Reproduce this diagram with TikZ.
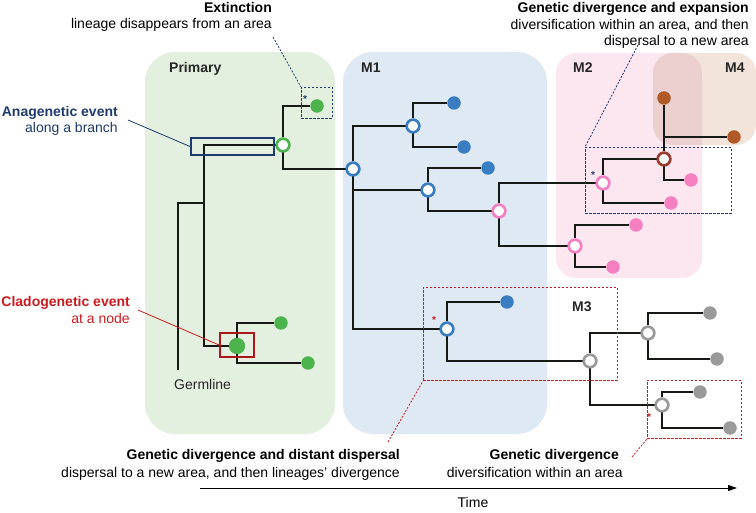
\documentclass[tikz,border=0pt]{standalone}
\usepackage{fontspec}
\setmainfont{Liberation Sans}
\usetikzlibrary{arrows.meta}
\definecolor{bgprim}{HTML}{E3F0DF}
\definecolor{bgmone}{HTML}{DFE9F4}
\definecolor{bgmtwo}{HTML}{FCE6F0}
\definecolor{bgmfour}{HTML}{F2E4DB}
\definecolor{bgover}{HTML}{EBD0CF}
\definecolor{cgreen}{HTML}{4DB34D}
\definecolor{cblue}{HTML}{3B7DC2}
\definecolor{cpink}{HTML}{F47FC1}
\definecolor{cbrown}{HTML}{B05A28}
\definecolor{cdred}{HTML}{9A3B32}
\definecolor{cgrey}{HTML}{9A9A9A}
\definecolor{cnavy}{HTML}{1F3A6E}
\definecolor{cred}{HTML}{CC1A1F}
\definecolor{treeblack}{HTML}{151A15}
\begin{document}
\begin{tikzpicture}[x=1pt,y=-1pt,
  font=\fontsize{14}{17}\selectfont,
  tree/.style={line width=2.6pt, draw=treeblack},
  opennode/.style={circle, draw=#1, fill=white, line width=2.5pt, minimum size=12.5pt, inner sep=0pt},
  dot/.style={circle, fill=#1, minimum size=13.5pt, inner sep=0pt},
  lblr/.style={inner sep=0pt, anchor=base east},
  lbll/.style={inner sep=0pt, anchor=base west},
  area/.style={inner sep=0pt, anchor=base west, font=\fontsize{14}{17}\selectfont\bfseries, text=black!85},
  star/.style={inner sep=0pt, font=\fontsize{10}{10}\selectfont\bfseries},
  evbox/.style={draw=#1, line width=0.9pt, dashed, dash pattern=on 2.5pt off 1.5pt, inner sep=0pt, anchor=north west},
  conn/.style={draw=#1, line width=0.8pt}
]
\useasboundingbox (0,0) rectangle (756,513);

% backgrounds
\fill[bgprim, rounded corners=30pt] (145,52) rectangle (335,434);
\fill[bgmone, rounded corners=30pt] (343,52) rectangle (547,434);
\fill[bgmtwo, rounded corners=20pt] (556,53) rectangle (702,278);
\fill[bgmfour, rounded corners=20pt] (653,53) rectangle (756,145);
\begin{scope}
  \clip[rounded corners=20pt] (556,53) rectangle (702,278);
  \fill[bgover, rounded corners=20pt] (653,53) rectangle (756,145);
\end{scope}

% area labels
\node[area] (lprim) at (169,73) {Primary};
\node[area] (lmone) at (361,73) {M1};
\node[area] (lmtwo) at (573,73) {M2};
\node[area] (lmfour) at (725,73) {M4};
\node[area] (lmthree) at (572,312) {M3};

% tree nodes
\coordinate (root) at (178,370);
\coordinate (j0) at (204,203);
\node[opennode=cgreen] (g1) at (283,145) {};
\node[circle, fill=cgreen, minimum size=16pt, inner sep=0pt] (clad) at (237,346) {};
\node[opennode=cblue] (m1) at (353,169) {};
\node[opennode=cblue] (b1) at (413,126) {};
\node[opennode=cblue] (b2) at (428,190) {};
\node[opennode=cblue] (b3) at (447,329) {};
\node[opennode=cpink] (p1) at (499,211) {};
\node[opennode=cpink] (p2) at (603,183) {};
\node[opennode=cpink] (p3) at (575,246) {};
\node[opennode=cdred] (r1) at (664,159) {};
\coordinate (j1) at (664,137);
\node[opennode=cgrey] (gr1) at (590,361) {};
\node[opennode=cgrey] (gr2) at (648,333) {};
\node[opennode=cgrey] (gr3) at (662,405) {};

% tips
\node[dot=cgreen] (ext) at (317,106) {};
\node[dot=cgreen] (c1) at (281,323) {};
\node[dot=cgreen] (c2) at (308,363) {};
\node[dot=cblue] (bd1) at (454,103) {};
\node[dot=cblue] (bd2) at (464,147) {};
\node[dot=cblue] (bd3) at (488,168) {};
\node[dot=cblue] (bd4) at (507,302) {};
\node[dot=cpink] (pd1) at (671,203) {};
\node[dot=cpink] (pd2) at (691,180) {};
\node[dot=cpink] (pd3) at (636,225) {};
\node[dot=cpink] (pd4) at (613,267) {};
\node[dot=cbrown] (brd1) at (664,98) {};
\node[dot=cbrown] (brd2) at (734,137) {};
\node[dot=cgrey] (gd1) at (710,313) {};
\node[dot=cgrey] (gd2) at (717,359) {};
\node[dot=cgrey] (gd3) at (700,392) {};
\node[dot=cgrey] (gd4) at (730,428) {};

% branches
\draw[tree] (root) |- (j0);
\draw[tree] (j0) |- (g1);
\draw[tree] (j0) |- (clad);
\draw[tree] (g1) |- (ext);
\draw[tree] (g1) |- (m1);
\draw[tree] (clad) |- (c1);
\draw[tree] (clad) |- (c2);
\draw[tree] (m1) |- (b1);
\draw[tree] (m1) |- (b2);
\draw[tree] (m1) |- (b3);
\draw[tree] (b1) |- (bd1);
\draw[tree] (b1) |- (bd2);
\draw[tree] (b2) |- (bd3);
\draw[tree] (b2) |- (p1);
\draw[tree] (p1) |- (p2);
\draw[tree] (p1) |- (p3);
\draw[tree] (p2) |- (r1);
\draw[tree] (p2) |- (pd1);
\draw[tree] (r1) |- (pd2);
\draw[tree] (r1) -- (brd1);
\draw[tree] (j1) -- (brd2);
\draw[tree] (p3) |- (pd3);
\draw[tree] (p3) |- (pd4);
\draw[tree] (b3) |- (bd4);
\draw[tree] (b3) |- (gr1);
\draw[tree] (gr1) |- (gr2);
\draw[tree] (gr1) |- (gr3);
\draw[tree] (gr2) |- (gd1);
\draw[tree] (gr2) |- (gd2);
\draw[tree] (gr3) |- (gd3);
\draw[tree] (gr3) |- (gd4);

% redraw nodes on top
\foreach \n/\c in {g1/cgreen,m1/cblue,b1/cblue,b2/cblue,b3/cblue,p1/cpink,p2/cpink,p3/cpink,r1/cdred,gr1/cgrey,gr2/cgrey,gr3/cgrey}
  \draw[\c, fill=white, line width=2.5pt] (\n) circle (6.25pt);
\fill[cgreen] (clad) circle (8pt);

% event boxes
\node[evbox=cnavy, minimum width=31pt, minimum height=31pt] (extbox) at (301,87) {};
\node[evbox=cnavy, minimum width=146pt, minimum height=66pt] (expbox) at (585,147) {};
\node[evbox=cred, minimum width=194pt, minimum height=93pt] (distbox) at (423,287) {};
\node[evbox=cred, minimum width=94pt, minimum height=58pt] (divbox) at (647,380) {};
\node[draw=cnavy, line width=2pt, inner sep=0pt, minimum width=83pt, minimum height=17pt, anchor=north west] (anabox) at (190,137) {};
\node[draw=cred!85!black, line width=2pt, inner sep=0pt, minimum width=34pt, minimum height=24pt, anchor=north west] (cladbox) at (219,332) {};

% asterisks
\node[star, text=cnavy] (s1) at (305,99) {*};
\node[star, text=cnavy] (s2) at (593,175) {*};
\node[star, text=cred] (s3) at (434,320) {*};
\node[star, text=cred] (s4) at (649,417) {*};

% labels
\node[lblr, font=\fontsize{14}{17}\selectfont\bfseries] (lext1) at (272,12.5) {Extinction};
\node[lblr] (lext2) at (272,29) {lineage disappears from an area};
\node[lblr, font=\fontsize{14}{17}\selectfont\bfseries] (lexp1) at (749,12.5) {Genetic divergence and expansion};
\node[lblr] (lexp2) at (749,29.5) {diversification within an area, and then};
\node[lblr] (lexp3) at (749,46) {dispersal to a new area};
\node[lblr, text=cnavy, font=\fontsize{14}{17}\selectfont\bfseries] (lana1) at (118,117) {Anagenetic event};
\node[lblr, text=cnavy] (lana2) at (118,133) {along a branch};
\node[lblr, text=cred, font=\fontsize{14}{17}\selectfont\bfseries] (lcla1) at (130,307) {Cladogenetic event};
\node[lblr, text=cred] (lcla2) at (130,323.5) {at a node};
\node[lbll, text=black!85] (lgerm) at (174,389) {Germline};
\node[lblr, font=\fontsize{14}{17}\selectfont\bfseries] (ldis1) at (400,460) {Genetic divergence and distant dispersal};
\node[lblr] (ldis2) at (400,477) {dispersal to a new area, and then lineages’ divergence};
\node[lblr, font=\fontsize{14}{17}\selectfont\bfseries] (ldiv1) at (619,460) {Genetic divergence};
\node[lblr] (ldiv2) at (623,477) {diversification within an area};
\node[inner sep=0pt, anchor=base] (ltime) at (473,507) {Time};

% connectors
\coordinate (cext) at (273,37);
\coordinate (cexp) at (638,45);
\coordinate (cana) at (128,120);
\coordinate (ccla) at (138,310);
\coordinate (cdis) at (388,442);
\coordinate (cdiv) at (632,457);
\draw[conn=cnavy, dashed, dash pattern=on 2pt off 1.5pt] (cext) -- (extbox.north west);
\draw[conn=cnavy, dashed, dash pattern=on 2pt off 1.5pt] (cexp) -- (expbox.north west);
\draw[conn=cnavy] (cana) -- (anabox.west);
\draw[conn=cred] (ccla) -- (cladbox.west);
\draw[conn=cred, dashed, dash pattern=on 2pt off 1.5pt] (cdis) -- (distbox.south west);
\draw[conn=cred, dashed, dash pattern=on 2pt off 1.5pt] (cdiv) -- (divbox.south west);

% time axis
\coordinate (tstart) at (200,488);
\coordinate (tend) at (737,488);
\draw[line width=1pt, -{Triangle[length=9pt,width=6pt]}] (tstart) -- (tend);
\end{tikzpicture}
\end{document}
